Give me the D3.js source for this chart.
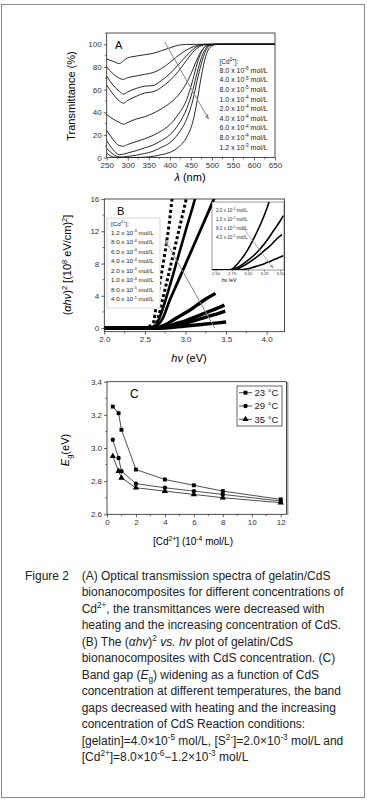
<!DOCTYPE html>
<html>
<head>
<meta charset="utf-8">
<script src="https://cdn.jsdelivr.net/npm/d3@7"></script>
<style>
  body { margin: 0; background: #fff; }
  svg { display: block; font-family: "Liberation Sans", Arial, sans-serif; }
</style>
</head>
<body>
<div id="fig"></div>
<script>
// ---------- Panel A : transmittance (%) vs wavelength (nm) ----------
const lambdaNm = [250, 265, 280, 290, 300, 320, 340, 360, 380, 400, 420, 440, 455, 465, 475, 485, 495, 510, 530, 650];
const tA_8e6  = [87, 85, 83, 85.5, 88, 89.6, 90.8, 92, 94.4, 96.8, 99.2, 99.9, 100, 100, 100, 100, 100, 100, 100, 100];
const tA_4e5  = [80, 74, 70, 69, 70.5, 72, 73.5, 75, 78.5, 84, 90, 95, 97.8, 99, 99.7, 100, 100, 100, 100, 100];
const tA_8e5  = [72, 64, 58.5, 56, 58, 61, 63, 63.5, 68, 74, 82, 90, 95.5, 98, 99.4, 100, 100, 100, 100, 100];
const tA_1e4  = [64, 56, 50, 48, 50.5, 54, 57, 58, 62, 68, 76, 86, 93, 96.5, 98.8, 99.7, 100, 100, 100, 100];
const tA_2e4  = [38, 34, 31, 29.5, 31, 34, 36, 39, 43, 48, 55, 66, 78, 87, 94, 98, 99.6, 100, 100, 100];
const tA_4e4  = [24, 16, 10.5, 10, 11.5, 14, 16.5, 19.5, 23.5, 29, 38, 51, 69, 83, 93, 98.5, 99.8, 100, 100, 100];
const tA_6e4  = [15, 7, 2.5, 3, 4, 6, 8.5, 11, 15, 20, 29, 43, 60, 75, 88, 96, 99.3, 100, 100, 100];
const tA_8e4  = [8, 3, 0.5, 0.5, 1, 2, 3.5, 5.5, 9, 13, 21, 34, 51, 68, 83, 94, 98.8, 100, 100, 100];
const tA_12e3 = [4, 0.5, 0, 0, 0, 0, 0.3, 1, 2.5, 4.5, 9, 18, 32, 50, 72, 89, 97, 99.8, 100, 100];
const concA = [["8.0", "-6"], ["4.0", "-5"], ["8.0", "-5"], ["1.0", "-4"], ["2.0", "-4"],
               ["4.0", "-4"], ["6.0", "-4"], ["8.0", "-4"], ["1.2", "-3"]];
const ticksAx = [250, 300, 350, 400, 450, 500, 550, 600, 650];
const ticksAy = [0, 20, 40, 60, 80, 100];

// ---------- Panel B : (alpha h nu)^2 vs h nu ----------
const b_12e3 = [[2.0, 0], [2.5, 0], [2.6, 0.6], [2.65, 3.5], [2.7, 6.5], [2.75, 9.5], [2.8, 13], [2.85, 17.5]];
const b_8e4  = [[2.0, 0], [2.55, 0], [2.62, 0.3], [2.67, 1.5], [2.72, 3.6], [2.8, 7], [2.9, 11.3], [3.0, 15.6], [3.05, 17.8]];
const b_6e4  = [[2.0, 0], [2.57, 0], [2.63, 0.3], [2.7, 1.8], [2.8, 5], [2.9, 8.5], [3.0, 12], [3.1, 15.4], [3.15, 17.2]];
const b_4e4  = [[2.0, 0], [2.58, 0], [2.65, 0.3], [2.72, 1.2], [2.8, 3.3], [2.9, 5.6], [3.0, 7.9], [3.1, 10.2], [3.2, 12.5], [3.3, 14.8], [3.38, 16.7]];
const b_2e4  = [[2.0, 0], [2.62, 0], [2.75, 0.4], [2.85, 1.0], [2.95, 1.6], [3.05, 2.2], [3.15, 2.9], [3.25, 3.6], [3.37, 4.3]];
const b_1e4  = [[2.0, 0], [2.66, 0], [2.8, 0.3], [2.9, 0.6], [3.0, 0.9], [3.1, 1.3], [3.2, 1.7], [3.3, 2.1], [3.4, 2.5], [3.48, 2.85]];
const b_8e5  = [[2.0, 0], [2.7, 0], [2.85, 0.3], [3.0, 0.6], [3.1, 0.9], [3.2, 1.2], [3.3, 1.5], [3.4, 1.8], [3.49, 2.1]];
const b_4e5  = [[2.0, 0], [2.75, 0], [2.9, 0.15], [3.0, 0.25], [3.1, 0.35], [3.2, 0.45], [3.3, 0.55], [3.4, 0.65], [3.5, 0.75]];
const concB = [["1.2", "-3"], ["8.0", "-4"], ["6.0", "-4"], ["4.0", "-4"], ["2.0", "-4"], ["1.0", "-4"], ["8.0", "-5"], ["4.0", "-5"]];
const ticksBx = [2.0, 2.5, 3.0, 3.5, 4.0];
const ticksBy = [0, 4, 8, 12, 16];

// inset of panel B (own scale)
const in_2e4 = [[2.445, 0], [2.7, 0], [2.75, 0.05], [2.8, 0.25], [2.9, 0.8], [3.0, 1.5], [3.1, 2.4], [3.2, 3.4], [3.3, 4.6], [3.35, 5.3]];
const in_1e4 = [[2.445, 0], [2.75, 0], [2.8, 0.1], [2.9, 0.35], [3.0, 0.7], [3.1, 1.1], [3.2, 1.6], [3.3, 2.2], [3.4, 2.9], [3.5, 3.6], [3.55, 4.0]];
const in_8e5 = [[2.445, 0], [2.78, 0], [2.85, 0.1], [2.95, 0.35], [3.05, 0.65], [3.15, 1.0], [3.25, 1.4], [3.35, 1.8], [3.45, 2.3], [3.53, 2.6]];
const in_4e5 = [[2.445, 0], [2.85, 0], [2.95, 0.05], [3.05, 0.15], [3.15, 0.3], [3.25, 0.45], [3.35, 0.65], [3.45, 0.85], [3.55, 1.05]];
const concIn = [["2.0", "-4"], ["1.0", "-4"], ["8.0", "-5"], ["4.0", "-5"]];
const ticksInx = [2.5, 2.75, 3.0, 3.25, 3.5];

// ---------- Panel C : band gap vs [Cd2+] ----------
const cdConc = [0.4, 0.8, 1.0, 2, 4, 6, 8, 12];
const eg23 = [3.25, 3.21, 3.11, 2.87, 2.81, 2.775, 2.74, 2.69];
const eg29 = [3.05, 2.94, 2.86, 2.785, 2.76, 2.74, 2.72, 2.68];
const eg35 = [2.95, 2.86, 2.82, 2.76, 2.74, 2.72, 2.70, 2.67];
const tempLabels = ["23 °C", "29 °C", "35 °C"];
const ticksCx = [0, 2, 4, 6, 8, 10, 12];
const ticksCy = [2.6, 2.8, 3.0, 3.2, 3.4];

// ---------------------------------------------------------------
const svg = d3.select("#fig").append("svg").attr("width", 367).attr("height", 802);

svg.append("rect").attr("x", 1.5).attr("y", 4.5).attr("width", 363).attr("height", 793)
  .attr("fill", "none").attr("stroke", "#8a8a8a");

const defs = svg.append("defs");
defs.append("marker").attr("id", "arr").attr("viewBox", "0 0 10 10")
  .attr("refX", 9).attr("refY", 5).attr("markerWidth", 5).attr("markerHeight", 5)
  .attr("orient", "auto").append("path").attr("d", "M0,1 L10,5 L0,9 Z").attr("fill", "#888");

// rich text: parts = "plain" | [text, "sup"|"sub"|"i"]
function rich(sel, parts, fs) {
  let off = 0;
  parts.forEach(p => {
    const [s, k] = Array.isArray(p) ? p : [p, ""];
    const target = k === "sup" ? -fs * 0.4 : k === "sub" ? fs * 0.25 : 0;
    const t = sel.append("tspan").attr("dy", target - off).text(s);
    off = target;
    if (k === "sup" || k === "sub") t.attr("font-size", fs * 0.68);
    if (k === "i") t.attr("font-style", "italic");
  });
  return sel;
}

function drawAxes(x, y, xt, yt, fx, fy, xm, ym) {
  const [x0, x1] = x.range(), [y0, y1] = y.range();
  const g = svg.append("g");
  g.append("g").attr("transform", `translate(0,${y0})`)
    .call(d3.axisBottom(x).tickValues(xt).tickSize(3).tickPadding(2).tickFormat(fx))
    .call(a => a.select(".domain").remove());
  g.append("g").attr("transform", `translate(${x0},0)`)
    .call(d3.axisLeft(y).tickValues(yt).tickSize(3).tickPadding(2).tickFormat(fy))
    .call(a => a.select(".domain").remove());
  g.selectAll(".tick text").attr("font-size", 8).attr("fill", "#333")
    .attr("font-family", '"Liberation Sans", Arial, sans-serif');
  g.selectAll(".tick line").attr("stroke", "#222").attr("stroke-width", 0.7);
  g.selectAll(".mx").data(xm).enter().append("line")
    .attr("x1", d => x(d)).attr("x2", d => x(d)).attr("y1", y0).attr("y2", y0 + 1.8)
    .attr("stroke", "#222").attr("stroke-width", 0.6);
  g.selectAll(".my").data(ym).enter().append("line")
    .attr("y1", d => y(d)).attr("y2", d => y(d)).attr("x1", x0).attr("x2", x0 - 1.8)
    .attr("stroke", "#222").attr("stroke-width", 0.6);
  return g;
}

function frame(x, y, w) {
  const [x0, x1] = x.range(), [y0, y1] = y.range();
  svg.append("rect").attr("x", x0).attr("y", y1).attr("width", x1 - x0).attr("height", y0 - y1)
    .attr("fill", "none").attr("stroke", "#222").attr("stroke-width", w || 0.8);
}

// ================= Panel A =================
const xA = d3.scaleLinear().domain([250, 650]).range([106.7, 275]);
const yA = d3.scaleLinear().domain([0, 110]).range([157.5, 33]);
const seriesA = [tA_8e6, tA_4e5, tA_8e5, tA_1e4, tA_2e4, tA_4e4, tA_6e4, tA_8e4, tA_12e3];
const lineA = d3.line().x((d, i) => xA(lambdaNm[i])).y(d => yA(d)).curve(d3.curveMonotoneX);
svg.append("g").selectAll("path").data(seriesA).enter().append("path")
  .attr("d", lineA).attr("fill", "none").attr("stroke", "#111").attr("stroke-width", 0.9);
frame(xA, yA);
drawAxes(xA, yA, ticksAx, ticksAy, d3.format("d"), d3.format("d"),
  [275, 325, 375, 425, 475, 525, 575, 625], [10, 30, 50, 70, 90, 110]);

svg.append("line").attr("x1", xA(388)).attr("y1", yA(102)).attr("x2", xA(492)).attr("y2", yA(34))
  .attr("stroke", "#888").attr("stroke-width", 1).attr("marker-end", "url(#arr)");

svg.append("text").attr("x", 115).attr("y", 49).attr("font-size", 11).text("A");
rich(svg.append("text").attr("x", 219.5).attr("y", 63.5).attr("font-size", 6.5).attr("fill", "#222"),
  ["[Cd", ["2+", "sup"], "]:"], 6.5);
concA.forEach((c, i) => {
  rich(svg.append("text").attr("x", 219.5).attr("y", 72.8 + 9.6 * i).attr("font-size", 7).attr("fill", "#222"),
    [c[0] + " x 10", [c[1], "sup"], " mol/L"], 7);
});
rich(svg.append("text").attr("x", 190).attr("y", 181).attr("text-anchor", "middle").attr("font-size", 11),
  [["λ", "i"], " (nm)"], 11);
svg.append("text").attr("transform", "translate(75,96) rotate(-90)").attr("text-anchor", "middle")
  .attr("font-size", 11).text("Transmittance (%)");

// ================= Panel B =================
const xB = d3.scaleLinear().domain([2, 4.22]).range([104.3, 284.5]);
const yB = d3.scaleLinear().domain([-0.45, 16]).range([331.7, 199]);
defs.append("clipPath").attr("id", "clipB").append("rect")
  .attr("x", 104.3).attr("y", 199).attr("width", 180.2).attr("height", 132.7);
const lineB = d3.line().x(d => xB(d[0])).y(d => yB(d[1])).curve(d3.curveMonotoneX);
const seriesB = [
  { d: b_4e5, w: 3.4, dash: null }, { d: b_8e5, w: 3.4, dash: null },
  { d: b_1e4, w: 3.4, dash: null }, { d: b_2e4, w: 3.4, dash: null },
  { d: b_4e4, w: 2.8, dash: null }, { d: b_6e4, w: 2.6, dash: null },
  { d: b_8e4, w: 3, dash: "3 2.4" }, { d: b_12e3, w: 3, dash: "3 2.6" }
];
svg.append("g").attr("clip-path", "url(#clipB)").selectAll("path").data(seriesB).enter().append("path")
  .attr("d", s => lineB(s.d)).attr("fill", "none").attr("stroke", "#000")
  .attr("stroke-width", s => s.w).attr("stroke-dasharray", s => s.dash);
frame(xB, yB);
drawAxes(xB, yB, ticksBx, ticksBy, d3.format(".1f"), d3.format("d"),
  [2.25, 2.75, 3.25, 3.75], [2, 6, 10, 14]);

svg.append("text").attr("x", 117).attr("y", 215).attr("font-size", 11).text("B");

// legend box B
svg.append("rect").attr("x", 107).attr("y", 218).attr("width", 53).attr("height", 90)
  .attr("fill", "#fff").attr("stroke", "#bbb").attr("stroke-width", 0.6);
rich(svg.append("text").attr("x", 111).attr("y", 225.5).attr("font-size", 6.2).attr("fill", "#222"),
  ["[Cd", ["2+", "sup"], "]:"], 6.2);
concB.forEach((c, i) => {
  rich(svg.append("text").attr("x", 111).attr("y", 234.5 + 9.5 * i).attr("font-size", 6.2).attr("fill", "#222"),
    [c[0] + " x 10", [c[1], "sup"], " mol/L"], 6.2);
});

// arrow B
svg.append("line").attr("x1", xB(3.36)).attr("y1", yB(0)).attr("x2", xB(2.75)).attr("y2", yB(10.9))
  .attr("stroke", "#888").attr("stroke-width", 1).attr("marker-end", "url(#arr)");

// inset
const xI = d3.scaleLinear().domain([2.445, 3.56]).range([212, 284]);
const yI = d3.scaleLinear().domain([0, 5]).range([270, 202]);
svg.append("rect").attr("x", 212).attr("y", 202).attr("width", 72).attr("height", 68)
  .attr("fill", "#fff").attr("stroke", "none");
defs.append("clipPath").attr("id", "clipI").append("rect")
  .attr("x", 212).attr("y", 202).attr("width", 72).attr("height", 68);
const lineI = d3.line().x(d => xI(d[0])).y(d => yI(d[1])).curve(d3.curveMonotoneX);
svg.append("g").attr("clip-path", "url(#clipI)").selectAll("path")
  .data([in_2e4, in_1e4, in_8e5, in_4e5]).enter().append("path")
  .attr("d", lineI).attr("fill", "none").attr("stroke", "#000").attr("stroke-width", 1.6);
svg.append("rect").attr("x", 212).attr("y", 202).attr("width", 72).attr("height", 68)
  .attr("fill", "none").attr("stroke", "#333").attr("stroke-width", 0.5);
const gi = svg.append("g").attr("transform", "translate(0,270)")
  .call(d3.axisBottom(xI).tickValues(ticksInx).tickSize(1.5).tickPadding(1).tickFormat(d3.format(".2f")))
  .call(a => a.select(".domain").remove());
gi.selectAll("text").attr("font-size", 4.2).attr("fill", "#333");
gi.selectAll("line").attr("stroke-width", 0.5);
rich(svg.append("text").attr("x", 229).attr("y", 282).attr("text-anchor", "middle").attr("font-size", 5.2),
  [["hν", "i"], " /eV"], 5.2);
concIn.forEach((c, i) => {
  rich(svg.append("text").attr("x", 216).attr("y", 211.5 + 9 * i).attr("font-size", 4.6).attr("fill", "#333"),
    [c[0] + " x 10", [c[1], "sup"], " mol/L"], 4.6);
});
svg.append("line").attr("x1", xI(2.91)).attr("y1", yI(3.2)).attr("x2", xI(3.39)).attr("y2", yI(0.15))
  .attr("stroke", "#888").attr("stroke-width", 0.7).attr("marker-end", "url(#arr)");

rich(svg.append("text").attr("x", 189).attr("y", 362).attr("text-anchor", "middle").attr("font-size", 11),
  [["hν", "i"], " (eV)"], 11);
rich(svg.append("text").attr("transform", "translate(71,265) rotate(-90)").attr("text-anchor", "middle")
  .attr("font-size", 11), ["(", ["αhν", "i"], ")", ["2", "sup"], " [(10", ["8", "sup"], " eV/cm)", ["2", "sup"], "]"], 11);

// ================= Panel C =================
const xC = d3.scaleLinear().domain([0, 12.4]).range([107, 286.5]);
const yC = d3.scaleLinear().domain([2.6, 3.4]).range([514.3, 381.7]);
svg.append("line").attr("x1", 287.5).attr("x2", 287.5).attr("y1", 382).attr("y2", 515)
  .attr("stroke", "#aaa").attr("stroke-width", 2);
frame(xC, yC);
drawAxes(xC, yC, ticksCx, ticksCy, d3.format("d"), d3.format(".1f"),
  [1, 3, 5, 7, 9, 11], [2.7, 2.9, 3.1, 3.3]);

const symbols = [d3.symbolSquare, d3.symbolCircle, d3.symbolTriangle];
const symSize = [15, 15, 17];
const seriesC = [eg23, eg29, eg35];
const lineC = d3.line().x((d, i) => xC(cdConc[i])).y(d => yC(d));
seriesC.forEach((s, k) => {
  svg.append("path").attr("d", lineC(s)).attr("fill", "none").attr("stroke", "#222").attr("stroke-width", 0.8);
  svg.append("g").selectAll("path").data(s).enter().append("path")
    .attr("transform", (d, i) => `translate(${xC(cdConc[i])},${yC(d)})`)
    .attr("d", d3.symbol().type(symbols[k]).size(symSize[k])).attr("fill", "#000");
});

svg.append("text").attr("x", 130).attr("y", 398).attr("font-size", 12).text("C");

svg.append("rect").attr("x", 237).attr("y", 386).attr("width", 45).attr("height", 40)
  .attr("fill", "#fff").attr("stroke", "#222").attr("stroke-width", 0.7);
tempLabels.forEach((t, k) => {
  const yy = 392.7 + 13.3 * k;
  svg.append("line").attr("x1", 239).attr("x2", 252).attr("y1", yy).attr("y2", yy)
    .attr("stroke", "#222").attr("stroke-width", 0.8);
  svg.append("path").attr("transform", `translate(245.5,${yy})`)
    .attr("d", d3.symbol().type(symbols[k]).size(symSize[k])).attr("fill", "#000");
  svg.append("text").attr("x", 254.5).attr("y", yy + 3.3).attr("font-size", 9.5).attr("fill", "#222").text(t);
});

rich(svg.append("text").attr("x", 193).attr("y", 545).attr("text-anchor", "middle").attr("font-size", 10),
  ["[Cd", ["2+", "sup"], "] (10", ["-4", "sup"], " mol/L)"], 10);
rich(svg.append("text").attr("transform", "translate(69,450) rotate(-90)").attr("text-anchor", "middle")
  .attr("font-size", 11), [["E", "i"], ["g", "sub"], "(eV)"], 11);

// ================= Caption =================
const capX = 81.7, capY0 = 580, capDy = 16.45;
svg.append("text").attr("x", 25).attr("y", capY0).attr("font-size", 12).attr("fill", "#222").text("Figure 2");
const caption = [
  ["(A) Optical transmission spectra of gelatin/CdS"],
  ["bionanocomposites for different concentrations of"],
  ["Cd", ["2+", "sup"], ", the transmittances were decreased with"],
  ["heating and the increasing concentration of CdS."],
  ["(B) The (", ["αhv", "i"], ")", ["2", "sup"], " ", ["vs. hv", "i"], " plot of gelatin/CdS"],
  ["bionanocomposites with CdS concentration. (C)"],
  ["Band gap (", ["E", "i"], ["g", "sub"], ") widening as a function of CdS"],
  ["concentration at different temperatures, the band"],
  ["gaps decreased with heating and the increasing"],
  ["concentration of CdS Reaction conditions:"],
  ["[gelatin]=4.0×10", ["-5", "sup"], " mol/L, [S", ["2-", "sup"], "]=2.0×10", ["-3", "sup"], " mol/L and"],
  ["[Cd", ["2+", "sup"], "]=8.0×10", ["-6", "sup"], "−1.2×10", ["-3", "sup"], " mol/L"]
];
caption.forEach((parts, i) => {
  rich(svg.append("text").attr("x", capX).attr("y", capY0 + capDy * i).attr("font-size", 12).attr("fill", "#222"),
    parts, 12);
});
</script>
</body>
</html>
